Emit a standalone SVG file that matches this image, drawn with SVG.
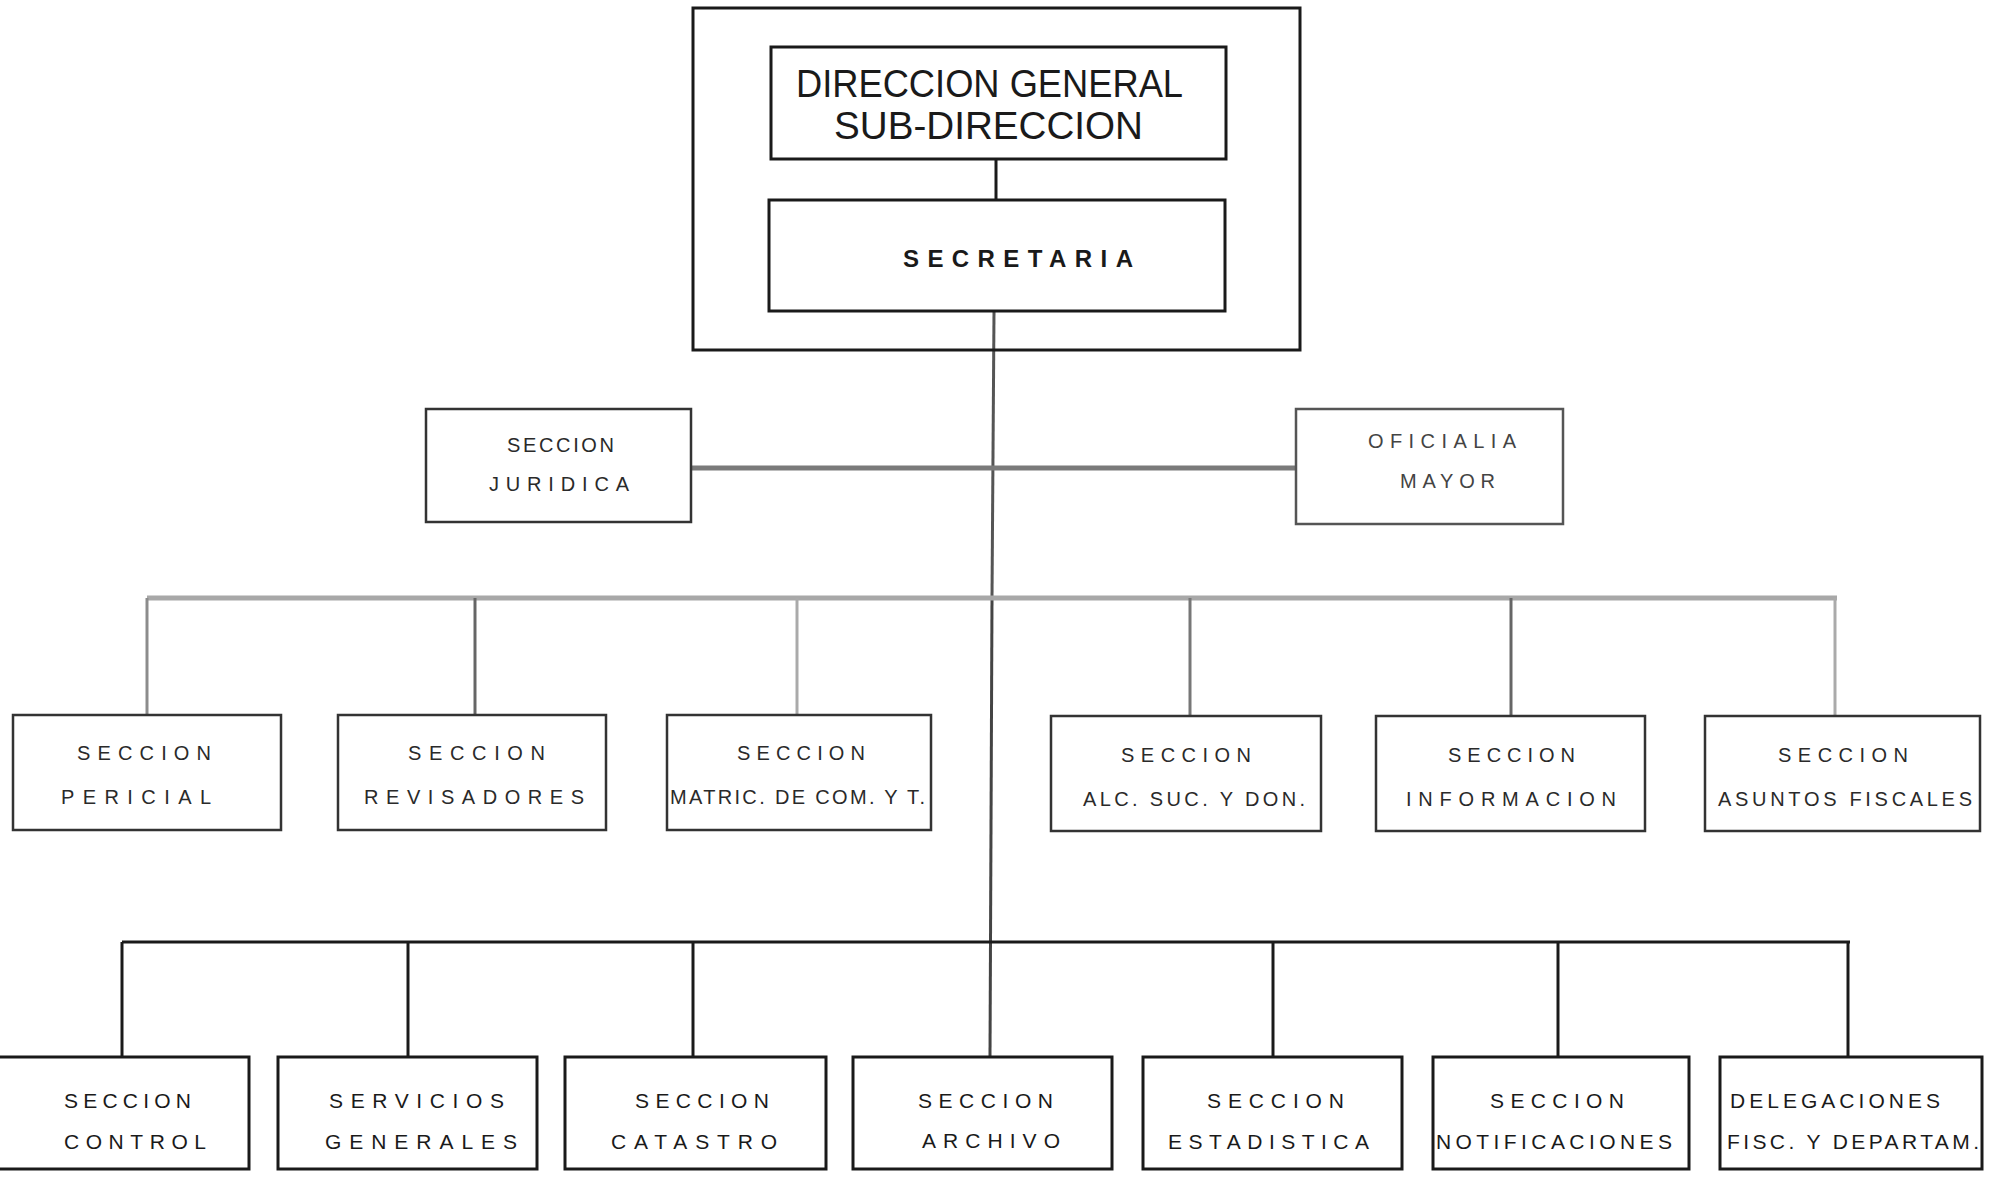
<svg xmlns="http://www.w3.org/2000/svg" width="1996" height="1177" viewBox="0 0 1996 1177">
<style>
.bg{fill:#fff}
.box{fill:none;stroke:#1a1a1a;stroke-width:3}
.boxg{fill:none;stroke:#333;stroke-width:2.5}
.t{font-family:"Liberation Sans",Arial,sans-serif;fill:#1a1a1a}
.big{font-size:38px}
.sec{font-size:24px;font-weight:bold}
.mid{font-size:20px;fill:#2a2a2a}
.bot{font-size:21px}
.c-dark{stroke:#1a1a1a;stroke-width:3;fill:none}
.c-gray{stroke:#7a7a7a;stroke-width:5;fill:none}
.c-light{stroke:#a8a8a8;stroke-width:5;fill:none}
.c-lv{stroke:#8c8c8c;stroke-width:3;fill:none}
</style>
<rect class="bg" x="0" y="0" width="1996" height="1177"/>
<g id="connectors">
  <line class="c-dark" x1="996" y1="159" x2="996" y2="200"/>
  <line class="c-lv" x1="994" y1="312" x2="992" y2="598" style="stroke:#555"/>
  <line class="c-dark" x1="992" y1="598" x2="990" y2="1057" style="stroke:#444"/>
  <line class="c-gray" x1="691" y1="468" x2="1296" y2="468"/>
  <line class="c-light" x1="147" y1="598" x2="1837" y2="598"/>
  <line class="c-lv" x1="147" y1="598" x2="147" y2="715"/>
  <line class="c-lv" x1="475" y1="598" x2="475" y2="715" style="stroke:#666"/>
  <line class="c-lv" x1="797" y1="598" x2="797" y2="715" style="stroke:#aaa"/>
  <line class="c-lv" x1="1190" y1="598" x2="1190" y2="715" style="stroke:#777"/>
  <line class="c-lv" x1="1511" y1="598" x2="1511" y2="715" style="stroke:#666"/>
  <line class="c-lv" x1="1835" y1="598" x2="1835" y2="715" style="stroke:#aaa"/>
  <line class="c-dark" x1="122" y1="942" x2="1850" y2="942"/>
  <line class="c-dark" x1="122" y1="942" x2="122" y2="1057"/>
  <line class="c-dark" x1="408" y1="942" x2="408" y2="1057"/>
  <line class="c-dark" x1="693" y1="942" x2="693" y2="1057"/>
  <line class="c-dark" x1="1273" y1="942" x2="1273" y2="1057"/>
  <line class="c-dark" x1="1558" y1="942" x2="1558" y2="1057"/>
  <line class="c-dark" x1="1848" y1="942" x2="1848" y2="1057"/>
</g>
<g id="outer">
  <rect class="box" x="693" y="8" width="607" height="342"/>
</g>
<g id="direccion">
  <rect class="box" x="771" y="47" width="455" height="112"/>
  <text class="t big" x="796" y="97" textLength="387" lengthAdjust="spacingAndGlyphs">DIRECCION GENERAL</text>
  <text class="t big" x="834" y="139" textLength="309" lengthAdjust="spacingAndGlyphs">SUB-DIRECCION</text>
</g>
<g id="secretaria">
  <rect class="box" x="769" y="200" width="456" height="111"/>
  <text class="t sec" x="903" y="267" textLength="230" lengthAdjust="spacing">SECRETARIA</text>
</g>
<g id="juridica">
  <rect class="boxg" x="426" y="409" width="265" height="113"/>
  <text class="t mid" x="507" y="452" textLength="107" lengthAdjust="spacing">SECCION</text>
  <text class="t mid" x="489" y="491" textLength="140" lengthAdjust="spacing">JURIDICA</text>
</g>
<g id="oficialia">
  <rect class="boxg" x="1296" y="409" width="267" height="115" style="stroke:#555"/>
  <text class="t mid" x="1368" y="448" textLength="148" lengthAdjust="spacing" style="fill:#444">OFICIALIA</text>
  <text class="t mid" x="1400" y="488" textLength="95" lengthAdjust="spacing" style="fill:#444">MAYOR</text>
</g>
<g id="pericial">
  <rect class="boxg" x="13" y="715" width="268" height="115"/>
  <text class="t mid" x="77" y="760" textLength="134" lengthAdjust="spacing">SECCION</text>
  <text class="t mid" x="61" y="804" textLength="150" lengthAdjust="spacing">PERICIAL</text>
</g>
<g id="revisadores">
  <rect class="boxg" x="338" y="715" width="268" height="115"/>
  <text class="t mid" x="408" y="760" textLength="137" lengthAdjust="spacing">SECCION</text>
  <text class="t mid" x="364" y="804" textLength="220" lengthAdjust="spacing">REVISADORES</text>
</g>
<g id="matric">
  <rect class="boxg" x="667" y="715" width="264" height="115"/>
  <text class="t mid" x="737" y="760" textLength="128" lengthAdjust="spacing">SECCION</text>
  <text class="t mid" x="670" y="804" textLength="255" lengthAdjust="spacing">MATRIC. DE COM. Y T.</text>
</g>
<g id="alc">
  <rect class="boxg" x="1051" y="716" width="270" height="115"/>
  <text class="t mid" x="1121" y="762" textLength="130" lengthAdjust="spacing">SECCION</text>
  <text class="t mid" x="1083" y="806" textLength="222" lengthAdjust="spacing">ALC. SUC. Y DON.</text>
</g>
<g id="informacion">
  <rect class="boxg" x="1376" y="716" width="269" height="115"/>
  <text class="t mid" x="1448" y="762" textLength="127" lengthAdjust="spacing">SECCION</text>
  <text class="t mid" x="1406" y="806" textLength="210" lengthAdjust="spacing">INFORMACION</text>
</g>
<g id="asuntos">
  <rect class="boxg" x="1705" y="716" width="275" height="115"/>
  <text class="t mid" x="1778" y="762" textLength="130" lengthAdjust="spacing">SECCION</text>
  <text class="t mid" x="1718" y="806" textLength="254" lengthAdjust="spacing">ASUNTOS FISCALES</text>
</g>
<g id="control">
  <rect class="box" x="-3" y="1057" width="252" height="112"/>
  <text class="t bot" x="64" y="1108" textLength="127" lengthAdjust="spacing">SECCION</text>
  <text class="t bot" x="64" y="1149" textLength="142" lengthAdjust="spacing">CONTROL</text>
</g>
<g id="servicios">
  <rect class="box" x="278" y="1057" width="259" height="112"/>
  <text class="t bot" x="329" y="1108" textLength="175" lengthAdjust="spacing">SERVICIOS</text>
  <text class="t bot" x="325" y="1149" textLength="192" lengthAdjust="spacing">GENERALES</text>
</g>
<g id="catastro">
  <rect class="box" x="565" y="1057" width="261" height="112"/>
  <text class="t bot" x="635" y="1108" textLength="134" lengthAdjust="spacing">SECCION</text>
  <text class="t bot" x="611" y="1149" textLength="166" lengthAdjust="spacing">CATASTRO</text>
</g>
<g id="archivo">
  <rect class="box" x="853" y="1057" width="259" height="112"/>
  <text class="t bot" x="918" y="1108" textLength="135" lengthAdjust="spacing">SECCION</text>
  <text class="t bot" x="922" y="1148" textLength="138" lengthAdjust="spacing">ARCHIVO</text>
</g>
<g id="estadistica">
  <rect class="box" x="1143" y="1057" width="259" height="112"/>
  <text class="t bot" x="1207" y="1108" textLength="137" lengthAdjust="spacing">SECCION</text>
  <text class="t bot" x="1168" y="1149" textLength="201" lengthAdjust="spacing">ESTADISTICA</text>
</g>
<g id="notificaciones">
  <rect class="box" x="1433" y="1057" width="256" height="112"/>
  <text class="t bot" x="1490" y="1108" textLength="134" lengthAdjust="spacing">SECCION</text>
  <text class="t bot" x="1436" y="1149" textLength="236" lengthAdjust="spacing">NOTIFICACIONES</text>
</g>
<g id="delegaciones">
  <rect class="box" x="1720" y="1057" width="262" height="112"/>
  <text class="t bot" x="1730" y="1108" textLength="210" lengthAdjust="spacing">DELEGACIONES</text>
  <text class="t bot" x="1727" y="1149" textLength="252" lengthAdjust="spacing">FISC. Y DEPARTAM.</text>
</g>
</svg>
